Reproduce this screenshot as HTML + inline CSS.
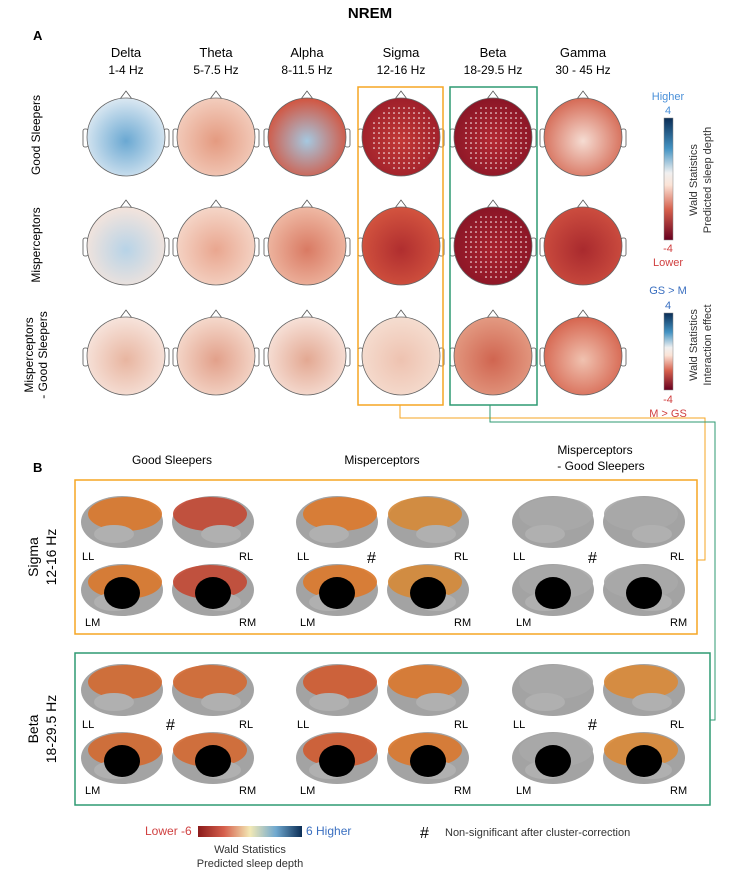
<!DOCTYPE html>
<html><head><meta charset="utf-8"><style>
body{margin:0;background:#fff;width:739px;height:882px;overflow:hidden}
svg text{font-family:"Liberation Sans",sans-serif}
</style></head><body>
<svg id="fig" width="739" height="882" viewBox="0 0 739 882" xmlns="http://www.w3.org/2000/svg">
<defs>
<linearGradient id="cbar" x1="0" y1="1" x2="0" y2="0">
<stop offset="0" stop-color="#67001f"/><stop offset="0.25" stop-color="#d6604d"/><stop offset="0.45" stop-color="#fbe3d6"/><stop offset="0.55" stop-color="#f0f0f0"/><stop offset="0.75" stop-color="#4393c3"/><stop offset="1" stop-color="#0b2d55"/></linearGradient>
<linearGradient id="hbar" x1="0" y1="0" x2="1" y2="0">
<stop offset="0" stop-color="#8b1a1a"/><stop offset="0.25" stop-color="#d6604d"/><stop offset="0.5" stop-color="#f3e9b5"/><stop offset="0.75" stop-color="#6fa8cf"/><stop offset="1" stop-color="#0b2d55"/></linearGradient>
</defs>
<text x="370" y="18" text-anchor="middle" font-weight="bold" font-size="15">NREM</text>
<text x="33" y="40" font-weight="bold" font-size="13">A</text>
<text x="33" y="472" font-weight="bold" font-size="13">B</text>
<g id="heads"></g>
<rect x="358" y="87" width="85" height="318" fill="none" stroke="#f5a623" stroke-width="1.5"/>
<rect x="450" y="87" width="87" height="318" fill="none" stroke="#2e9a72" stroke-width="1.5"/>
<polyline points="400,405 400,418 705,418 705,560 697,560" fill="none" stroke="#f5a623" stroke-width="1"/>
<polyline points="490,405 490,422 715,422 715,720 710,720" fill="none" stroke="#2e9a72" stroke-width="1"/>
<g>
<text x="668" y="100" text-anchor="middle" fill="#4a90d9" font-size="11">Higher</text>
<text x="668" y="114" text-anchor="middle" fill="#4a90d9" font-size="11">4</text>
<rect x="664" y="118" width="9" height="122" fill="url(#cbar)" stroke="#888" stroke-width="0.5"/>
<text x="668" y="252" text-anchor="middle" fill="#d04040" font-size="11">-4</text>
<text x="668" y="266" text-anchor="middle" fill="#d04040" font-size="11">Lower</text>
<text transform="translate(697,180) rotate(-90)" text-anchor="middle" font-size="11" fill="#333">Wald Statistics</text>
<text transform="translate(711,180) rotate(-90)" text-anchor="middle" font-size="11" fill="#333">Predicted sleep depth</text>
</g>
<g>
<text x="668" y="294" text-anchor="middle" fill="#3a6fc0" font-size="11">GS &gt; M</text>
<text x="668" y="309" text-anchor="middle" fill="#3a6fc0" font-size="11">4</text>
<rect x="664" y="313" width="9" height="77" fill="url(#cbar)" stroke="#888" stroke-width="0.5"/>
<text x="668" y="403" text-anchor="middle" fill="#d04040" font-size="11">-4</text>
<text x="668" y="417" text-anchor="middle" fill="#d04040" font-size="11">M &gt; GS</text>
<text transform="translate(697,345) rotate(-90)" text-anchor="middle" font-size="11" fill="#333">Wald Statistics</text>
<text transform="translate(711,345) rotate(-90)" text-anchor="middle" font-size="11" fill="#333">Interaction effect</text>
</g>
<text transform="translate(40,135) rotate(-90)" text-anchor="middle" font-size="12">Good Sleepers</text>
<text transform="translate(40,245) rotate(-90)" text-anchor="middle" font-size="12">Misperceptors</text>
<text transform="translate(33,355) rotate(-90)" text-anchor="middle" font-size="12">Misperceptors</text>
<text transform="translate(47,355) rotate(-90)" text-anchor="middle" font-size="12">- Good Sleepers</text>
<text x="172" y="464" text-anchor="middle" font-size="12">Good Sleepers</text>
<text x="382" y="464" text-anchor="middle" font-size="12">Misperceptors</text>
<text x="595" y="454" text-anchor="middle" font-size="12">Misperceptors</text>
<text x="601" y="470" text-anchor="middle" font-size="12">- Good Sleepers</text>
<rect x="75" y="480" width="622" height="154" fill="none" stroke="#f5a623" stroke-width="1.5"/>
<rect x="75" y="653" width="635" height="152" fill="none" stroke="#2e9a72" stroke-width="1.5"/>
<text transform="translate(38,557) rotate(-90)" text-anchor="middle" font-size="14">Sigma</text>
<text transform="translate(56,557) rotate(-90)" text-anchor="middle" font-size="14">12-16 Hz</text>
<text transform="translate(38,729) rotate(-90)" text-anchor="middle" font-size="14">Beta</text>
<text transform="translate(56,729) rotate(-90)" text-anchor="middle" font-size="14">18-29.5 Hz</text>
<g id="brains"></g>
<g>
<text x="145" y="835" fill="#d04040" font-size="12">Lower  -6</text>
<rect x="198" y="826" width="104" height="11" fill="url(#hbar)"/>
<text x="306" y="835" fill="#3a6fc0" font-size="12">6  Higher</text>
<text x="250" y="853" text-anchor="middle" font-size="11" fill="#333">Wald Statistics</text>
<text x="250" y="867" text-anchor="middle" font-size="11" fill="#333">Predicted sleep depth</text>
</g>
<text x="420" y="838" font-size="16">#</text>
<text x="445" y="836" font-size="11" fill="#333">Non-significant after cluster-correction</text>
</svg>
<script>
const bands=["Delta","Theta","Alpha","Sigma","Beta","Gamma"];
const ranges=["1-4 Hz","5-7.5 Hz","8-11.5 Hz","12-16 Hz","18-29.5 Hz","30 - 45 Hz"];
const colX=[126,216,307,401,493,583];
const rowY=[137,246,356];
const headCols=[
[["#dbe8f2","#6aa8d2"],["#f3cdbd","#e49a80"],["#d2543f","#a5c8e0"],["#9e1f2a","#c23a37"],["#8a1526","#b42a33"],["#d56a55","#f5dcd2"]],
[["#f4e4dc","#b7d3e7"],["#f5d6c8","#e9a68f"],["#efb9a4","#d97a63"],["#d3543f","#b02e2f"],["#8a1526","#a8222e"],["#cc4d3f","#a92a2e"]],
[["#f7e4dc","#e8b5a0"],["#f5d9cc","#e2a08a"],["#f7e1d8","#e3a892"],["#f5ddd0","#eec2b0"],["#e39a82","#d06550"],["#d6654f","#f0c2b0"]]];
const dotted=[[0,3],[0,4],[1,4]];
const NS="http://www.w3.org/2000/svg";
function mk(t,a,p){const e=document.createElementNS(NS,t);for(const k in a)e.setAttribute(k,a[k]);p.appendChild(e);return e;}
const H=document.getElementById('heads');
for(let c=0;c<6;c++){
 const t=mk('text',{x:colX[c],y:57,'text-anchor':'middle','font-size':13},H);t.textContent=bands[c];
 
 
 const t2=mk('text',{x:colX[c],y:74,'text-anchor':'middle','font-size':12},H);t2.textContent=ranges[c];
 
 
}
for(let r=0;r<3;r++)for(let c=0;c<6;c++){
 const cx=colX[c],cy=rowY[r],R=39;
 const g=mk('g',{},H);
 
 
 mk('path',{d:`M${cx-6},${cy-R+1} L${cx},${cy-R-7} L${cx+6},${cy-R+1}`,fill:'#fff',stroke:'#555','stroke-width':0.8},g);
 mk('rect',{x:cx-R-4,y:cy-8,width:5,height:18,rx:2,fill:'#fff',stroke:'#555','stroke-width':0.8},g);
 mk('rect',{x:cx+R-1,y:cy-8,width:5,height:18,rx:2,fill:'#fff',stroke:'#555','stroke-width':0.8},g);
 const id='hg'+r+c;const gr=mk('radialGradient',{id:id,cx:'50%',cy:'55%',r:'55%'},document.querySelector('defs'));
 mk('stop',{offset:'0','stop-color':headCols[r][c][1]},gr);mk('stop',{offset:'1','stop-color':headCols[r][c][0]},gr);
 mk('circle',{cx:cx,cy:cy,r:R,fill:`url(#${id})`,stroke:'#666','stroke-width':0.8},g);
 if(dotted.some(d=>d[0]==r&&d[1]==c)){
  for(let y=-34;y<=34;y+=5)for(let x=-34;x<=34;x+=5){if(x*x+y*y<33*33)mk('circle',{cx:cx+x+(y%10?2:0),cy:cy+y,r:0.8,fill:'#fff'},g);}
 }
}
const B=document.getElementById('brains');
const bx=[82,297,513];
const sets=[[522,590],[690,758]];
const fills=[[["#d9782e","#c24a35"],["#db7a2e","#d58a3a"],["#a8a8a8","#a8a8a8"]],[["#d16a32","#d26a34"],["#cf5c32","#d97830"],["#a8a8a8","#d98a3a"]]];
const hashes=[[0,1,367,563],[0,2,588,563],[1,0,166,730],[1,2,588,730]];
for(let s=0;s<2;s++)for(let k=0;k<3;k++){
 const x0=bx[k];const [ty,by]=sets[s];const f=fills[s][k];
 const pos=[[x0+40,ty,'LL',x0,ty+38],[x0+131,ty,'RL',x0+157,ty+38],[x0+40,by,'LM',x0+3,by+36],[x0+131,by,'RM',x0+157,by+36]];
 pos.forEach((p,i)=>{
  const g=mk('g',{},B);
  
  
  mk('ellipse',{cx:p[0],cy:p[1],rx:41,ry:26,fill:'#a3a3a3'},g);
  mk('ellipse',{cx:p[0]+(i%2?-3:3),cy:p[1]-8,rx:37,ry:17,fill:f[i%2],opacity:0.92},g);
  mk('ellipse',{cx:p[0]+(i%2?8:-8),cy:p[1]+12,rx:20,ry:9,fill:'#b0b0b0'},g);
  if(i>=2)mk('ellipse',{cx:p[0],cy:p[1]+3,rx:18,ry:16,fill:'#000'},g);
  const t=mk('text',{x:p[3],y:p[4],'font-size':11},g);t.textContent=p[2];
 });
}
hashes.forEach(h=>{const t=mk('text',{x:h[2],y:h[3],'font-size':16},B);t.textContent='#';
 
 });
</script>
</body></html>
